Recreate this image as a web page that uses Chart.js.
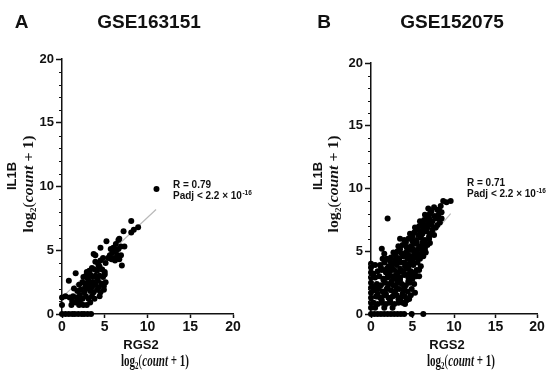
<!DOCTYPE html>
<html>
<head>
<meta charset="utf-8">
<script src="https://cdn.jsdelivr.net/npm/chart.js@4"></script>
<style>
  html, body { margin: 0; padding: 0; background: #fff; }
  #wrap { position: relative; width: 550px; height: 374px; }
  #wrap canvas { position: absolute; top: 0; }
</style>
</head>
<body>
<div id="wrap">
  <canvas id="chartA" width="275" height="374" style="left:0"></canvas>
  <canvas id="chartB" width="275" height="374" style="left:275px"></canvas>
</div>
<script>
// RGS2 (x) vs IL1B (y), log2(count + 1)
const gse163151 = [
  [0,0],[0.4,0],[0.8,0],[1.2,0],[1.5,0],[1.9,0],[2.3,0],[2.6,0],[3.0,0],[3.4,0],
  [0,0.7],[1.1,0.7],[2.0,0.7],[2.2,0.8],[2.5,0.7],[2.9,0.7],[3.3,0.9],[1.6,0.9],
  [0,1.3],[0.4,1.4],[0.9,1.3],[1.3,1.4],[1.7,1.3],[2.1,1.5],[2.4,1.2],[2.8,1.4],[3.1,1.2],[3.5,1.4],[1.2,1.0],[1.9,1.1],[3.8,1.2],[4.4,1.4],
  [1.4,2.0],[1.8,1.8],[2.2,1.9],[2.6,1.7],[3.0,2.0],[3.3,1.8],[3.7,1.7],[4.1,1.9],[4.5,1.7],[4.9,1.9],[2.7,2.1],[3.5,2.1],[4.3,2.1],
  [0.8,2.6],[1.6,3.2],[2.0,2.3],[2.4,2.5],[2.8,2.4],[3.1,2.6],[3.3,2.3],[3.6,2.5],[3.9,2.3],[4.2,2.6],[4.6,2.4],[4.9,2.2],[5.1,2.5],
  [2.5,2.9],[2.8,3.0],[3.0,2.8],[3.3,3.1],[3.6,2.9],[3.9,3.0],[4.1,2.8],[4.4,3.0],[4.8,2.9],[5.0,3.1],[2.9,3.3],[3.2,3.4],
  [3.5,3.6],[3.8,3.5],[4.1,3.4],[4.4,3.7],[4.7,3.5],[5.0,3.3],[4.2,4.0],[3.9,4.1],[4.5,4.2],[4.8,4.4],[5.1,4.0],
  [3.7,4.7],[4.5,5.2],[3.9,4.6],[4.3,3.8],[5.2,5.7],[5.4,4.4],
  [5.6,4.6],[5.9,4.8],[6.1,4.4],[6.3,4.9],[6.5,4.6],[6.7,4.3],[6.9,4.6],[6.6,5.1],[6.0,5.2],[6.3,5.5],[6.6,5.8],[5.7,5.1],[7.0,3.8],[6.2,4.2],[5.8,4.3],[6.9,5.3],
  [6.7,5.9],[7.2,6.5],[8.1,6.4],[8.4,6.6],[8.9,6.8],[8.1,7.3],[7.3,5.3],
  [11.05,9.8]
];
const gse152075 = [
  [0,0],[0,0.5],[0,0.9],[0,1.3],[0,1.7],[0,2.1],[0,2.5],[0,2.9],[0,3.3],[0,3.7],[0,4.0],
  [0.4,0],[0.8,0],[1.2,0],[1.6,0],[2.0,0],[2.4,0],[2.8,0],[3.2,0],[3.6,0],[4.0,0],[4.9,0],[6.3,0],
  [0.3,0.9],[0.8,0.8],[1.3,0.9],[1.8,0.8],[2.3,0.9],[2.8,0.8],[3.3,0.9],[3.8,0.9],[4.1,0.8],
  [0.5,0.5],[1.6,0.5],[2.6,0.5],
  [0.6,1.4],[1.1,1.3],[1.6,1.5],[2.1,1.3],[2.6,1.4],[3.1,1.5],[3.6,1.3],[4.1,1.4],[4.6,1.2],
  [0.4,1.9],[0.9,2.0],[1.4,1.8],[1.9,2.0],[2.4,1.9],[2.9,1.8],[3.4,2.0],[3.9,1.9],[4.4,1.8],[4.9,2.0],[5.3,1.7],
  [0.7,2.4],[1.2,2.3],[1.7,2.5],[2.2,2.4],[2.7,2.3],[3.2,2.5],[3.7,2.4],[4.2,2.3],[4.7,2.5],[5.2,2.4],
  [0.5,2.9],[1.0,3.0],[1.5,2.8],[2.0,2.9],[2.5,3.0],[3.0,2.8],[3.5,2.9],[4.0,3.1],[4.5,2.9],[5.0,2.8],[5.5,3.0],
  [0.8,3.4],[1.3,3.5],[1.8,3.3],[2.3,3.4],[2.8,3.5],[3.3,3.3],[3.8,3.4],[4.3,3.6],[4.8,3.4],[5.3,3.3],[5.8,3.5],
  [0.5,3.9],[1.1,3.9],[1.6,4.1],[2.1,3.8],[2.6,4.0],[3.1,3.9],[3.6,4.1],[4.1,3.8],[4.6,4.0],[5.1,3.9],[5.6,4.1],[6.0,3.8],
  [1.9,4.4],[2.4,4.5],[2.9,4.3],[3.4,4.4],[3.9,4.6],[4.4,4.4],[4.9,4.3],[5.4,4.5],[5.9,4.4],[6.3,4.6],
  [2.7,4.9],[3.2,5.0],[3.7,4.8],[4.2,4.9],[4.7,5.1],[5.2,4.9],[5.7,4.8],[6.2,5.0],[6.6,4.9],
  [3.3,5.4],[3.8,5.5],[4.3,5.3],[4.8,5.4],[5.3,5.6],[5.8,5.4],[6.3,5.3],[6.8,5.5],
  [4.0,5.9],[4.5,6.0],[5.0,5.8],[5.5,5.9],[6.0,6.1],[6.5,5.9],[7.0,6.0],
  [4.7,6.4],[5.2,6.5],[5.7,6.3],[6.2,6.4],[6.7,6.6],[7.2,6.4],[7.6,6.3],
  [5.3,6.9],[5.8,7.0],[6.3,6.8],[6.8,6.9],[7.3,7.1],[7.8,6.9],
  [5.9,7.4],[6.4,7.5],[6.9,7.3],[7.4,7.4],[7.9,7.6],[8.3,7.3],
  [6.5,7.9],[7.1,8.0],[7.6,7.8],[8.1,7.9],[8.5,8.1],
  [6.9,8.4],[7.6,8.5],[8.2,8.3],
  [8.7,9.0],[9.1,8.9],[9.6,9.0],
  [2.0,7.6],[1.3,5.2],[3.5,6.0],[1.6,4.8],
  [1.0,2.2],[2.0,2.1],[3.0,2.2],[4.0,2.1],[1.5,2.7],[2.5,2.6],[3.5,2.7],[4.5,2.6],
  [2.0,3.2],[3.0,3.1],[4.0,3.2],[5.0,3.1],[2.5,3.7],[3.5,3.6],[4.5,3.7],[3.0,4.2],
  [4.0,4.1],[5.0,4.2],[4.5,4.7],[5.5,4.7],[5.0,5.2],[6.0,5.2],[5.5,5.7],[6.5,5.7],
  [6.0,6.6],[7.0,7.6],[6.6,7.1],
  [3.0,4.65],[4.0,4.7],[5.0,4.6],[6.0,4.75],[3.5,5.15],[4.5,5.2],[5.5,5.1],[6.5,5.2],
  [4.2,5.7],[5.2,5.75],[6.2,5.7],[7.1,5.65],[5.0,6.2],[6.0,6.25],[7.0,6.2],[5.5,6.7],
  [6.5,6.65],[7.4,6.7],[6.2,7.2],[7.2,7.25],[8.0,7.1],[6.8,7.7],[7.8,7.75],[8.5,7.6],
  [7.3,8.2],[8.0,8.3],[8.4,8.6],
  [0.3,2.2],[0.3,3.2],[0.8,1.6],[1.3,1.1],[2.3,1.1],[3.3,1.2],[4.3,1.1],[1.8,1.6],
  [2.8,1.6],[3.8,1.6],[4.8,1.5],[1.2,3.7],[1.9,3.6],[1.4,4.4],[2.3,4.2],
  [4.6,3.2],[5.5,3.5],[5.8,3.0]
];
// fitted lines
const fitA = [[0,1.3],[11,8.2]];
const fitB = [[0,0.6],[9.6,8.0]];
const axisTicks = [0, 5, 10, 15, 20];

const SANS = "'Liberation Sans', Arial, sans-serif";
const SERIF = "'Liberation Serif', 'DejaVu Serif', serif";
const INK = '#111';

// draws "log2(count + 1)" centred on the origin, stretched to len px
function drawLog(ctx, len, size) {
  const parts = [
    { t: 'log', f: 'bold ' + size + 'px ' + SERIF, dy: 0 },
    { t: '2', f: 'bold ' + Math.round(size * 0.62) + 'px ' + SERIF, dy: 3 },
    { t: '(', f: size + 'px ' + SERIF, dy: 0 },
    { t: 'count', f: 'italic bold ' + size + 'px ' + SERIF, dy: 0 },
    { t: ' + 1)', f: 'bold ' + size + 'px ' + SERIF, dy: 0 }
  ];
  let w = 0;
  parts.forEach(p => { ctx.font = p.f; p.w = ctx.measureText(p.t).width; w += p.w; });
  ctx.save();
  ctx.scale(len / w, 1);
  ctx.textAlign = 'left';
  ctx.textBaseline = 'alphabetic';
  let x = -w / 2;
  parts.forEach(p => { ctx.font = p.f; ctx.fillText(p.t, x, 4 + p.dy); x += p.w; });
  ctx.restore();
}

const decor = {
  id: 'panelDecor',
  afterDraw(chart, args, o) {
    const ctx = chart.ctx;
    const ys = chart.scales.y;
    const left = chart.chartArea.left;
    ctx.save();
    // minor ticks on y
    ctx.strokeStyle = INK;
    ctx.lineWidth = 1;
    for (let v = 1; v < 20; v++) {
      if (v % 5 === 0) continue;
      const py = Math.round(ys.getPixelForValue(v)) + 0.5;
      ctx.beginPath();
      ctx.moveTo(left - 3, py);
      ctx.lineTo(left, py);
      ctx.stroke();
    }
    ctx.fillStyle = INK;
    // panel letter + title
    ctx.textAlign = 'center';
    ctx.textBaseline = 'alphabetic';
    ctx.font = 'bold 19px ' + SANS;
    ctx.fillText(o.letter, o.letterX, 28);
    ctx.fillText(o.title, o.titleX, 28);
    // x title
    ctx.font = 'bold 13px ' + SANS;
    ctx.textBaseline = 'middle';
    ctx.fillText('RGS2', o.xNameX, 345);
    ctx.save();
    ctx.translate(o.xLogX, 362);
    drawLog(ctx, 68, 16);
    ctx.restore();
    // y title
    ctx.save();
    ctx.translate(o.yNameX, 176);
    ctx.rotate(-Math.PI / 2);
    ctx.font = 'bold 13px ' + SANS;
    ctx.textBaseline = 'middle';
    ctx.fillText('IL1B', 0, 0);
    ctx.restore();
    ctx.save();
    ctx.translate(o.yLogX, 184);
    ctx.rotate(-Math.PI / 2);
    drawLog(ctx, 97, 15);
    ctx.restore();
    // stats
    ctx.textAlign = 'left';
    ctx.textBaseline = 'middle';
    ctx.font = 'bold 10px ' + SANS;
    ctx.fillText(o.r, o.statX, o.statY);
    const l2 = 'Padj < 2.2 \u00d7 10';
    ctx.fillText(l2, o.statX, o.statY + 11);
    const w2 = ctx.measureText(l2).width;
    ctx.font = 'bold 6.5px ' + SANS;
    ctx.fillText('-16', o.statX + w2 + 0.5, o.statY + 8);
    ctx.restore();
  }
};

function makePanel(id, pts, fit, area, deco) {
  const tickFont = { family: SANS, weight: 'bold' };
  return new Chart(document.getElementById(id), {
    type: 'scatter',
    data: {
      datasets: [
        {
          data: pts.map(p => ({ x: p[0], y: p[1] })),
          pointRadius: 3,
          pointHoverRadius: 3,
          backgroundColor: '#000',
          borderWidth: 0,
          clip: false
        },
        {
          data: fit.map(p => ({ x: p[0], y: p[1] })),
          showLine: true,
          pointRadius: 0,
          borderColor: '#b9b9b9',
          borderWidth: 1.2,
          clip: false
        }
      ]
    },
    options: {
      responsive: false,
      animation: false,
      events: [],
      layout: { padding: { left: 0, top: area.top, right: area.right, bottom: 0 } },
      plugins: { legend: { display: false }, tooltip: { enabled: false }, panelDecor: deco },
      scales: {
        x: {
          type: 'linear', min: 0, max: 20,
          afterFit: s => { s.height = 60; },
          afterBuildTicks: s => { s.ticks = axisTicks.map(v => ({ value: v })); },
          ticks: { font: { ...tickFont, size: 14 }, color: INK, padding: 1, maxRotation: 0 },
          grid: { drawOnChartArea: false, tickLength: 4, tickColor: INK, tickWidth: 1.5 },
          border: { color: INK, width: 1.5 }
        },
        y: {
          type: 'linear', min: 0, max: 20,
          afterFit: s => { s.width = area.left; },
          afterBuildTicks: s => { s.ticks = axisTicks.map(v => ({ value: v })); },
          ticks: { font: { ...tickFont, size: 13 }, color: INK, padding: 2 },
          grid: { drawOnChartArea: false, tickLength: 6, tickColor: INK, tickWidth: 1.5 },
          border: { color: INK, width: 1.5 }
        }
      }
    },
    plugins: [decor]
  });
}

makePanel('chartA', gse163151, fitA, { left: 62, top: 59, right: 42 }, {
  letter: 'A', letterX: 21.5, title: 'GSE163151', titleX: 149,
  xNameX: 141, xLogX: 155, yNameX: 12, yLogX: 29,
  r: 'R = 0.79', statX: 173, statY: 185
});
makePanel('chartB', gse152075, fitB, { left: 96, top: 63, right: 13 }, {
  letter: 'B', letterX: 49, title: 'GSE152075', titleX: 177,
  xNameX: 172, xLogX: 186, yNameX: 43, yLogX: 59,
  r: 'R = 0.71', statX: 192, statY: 183
});
</script>
</body>
</html>
